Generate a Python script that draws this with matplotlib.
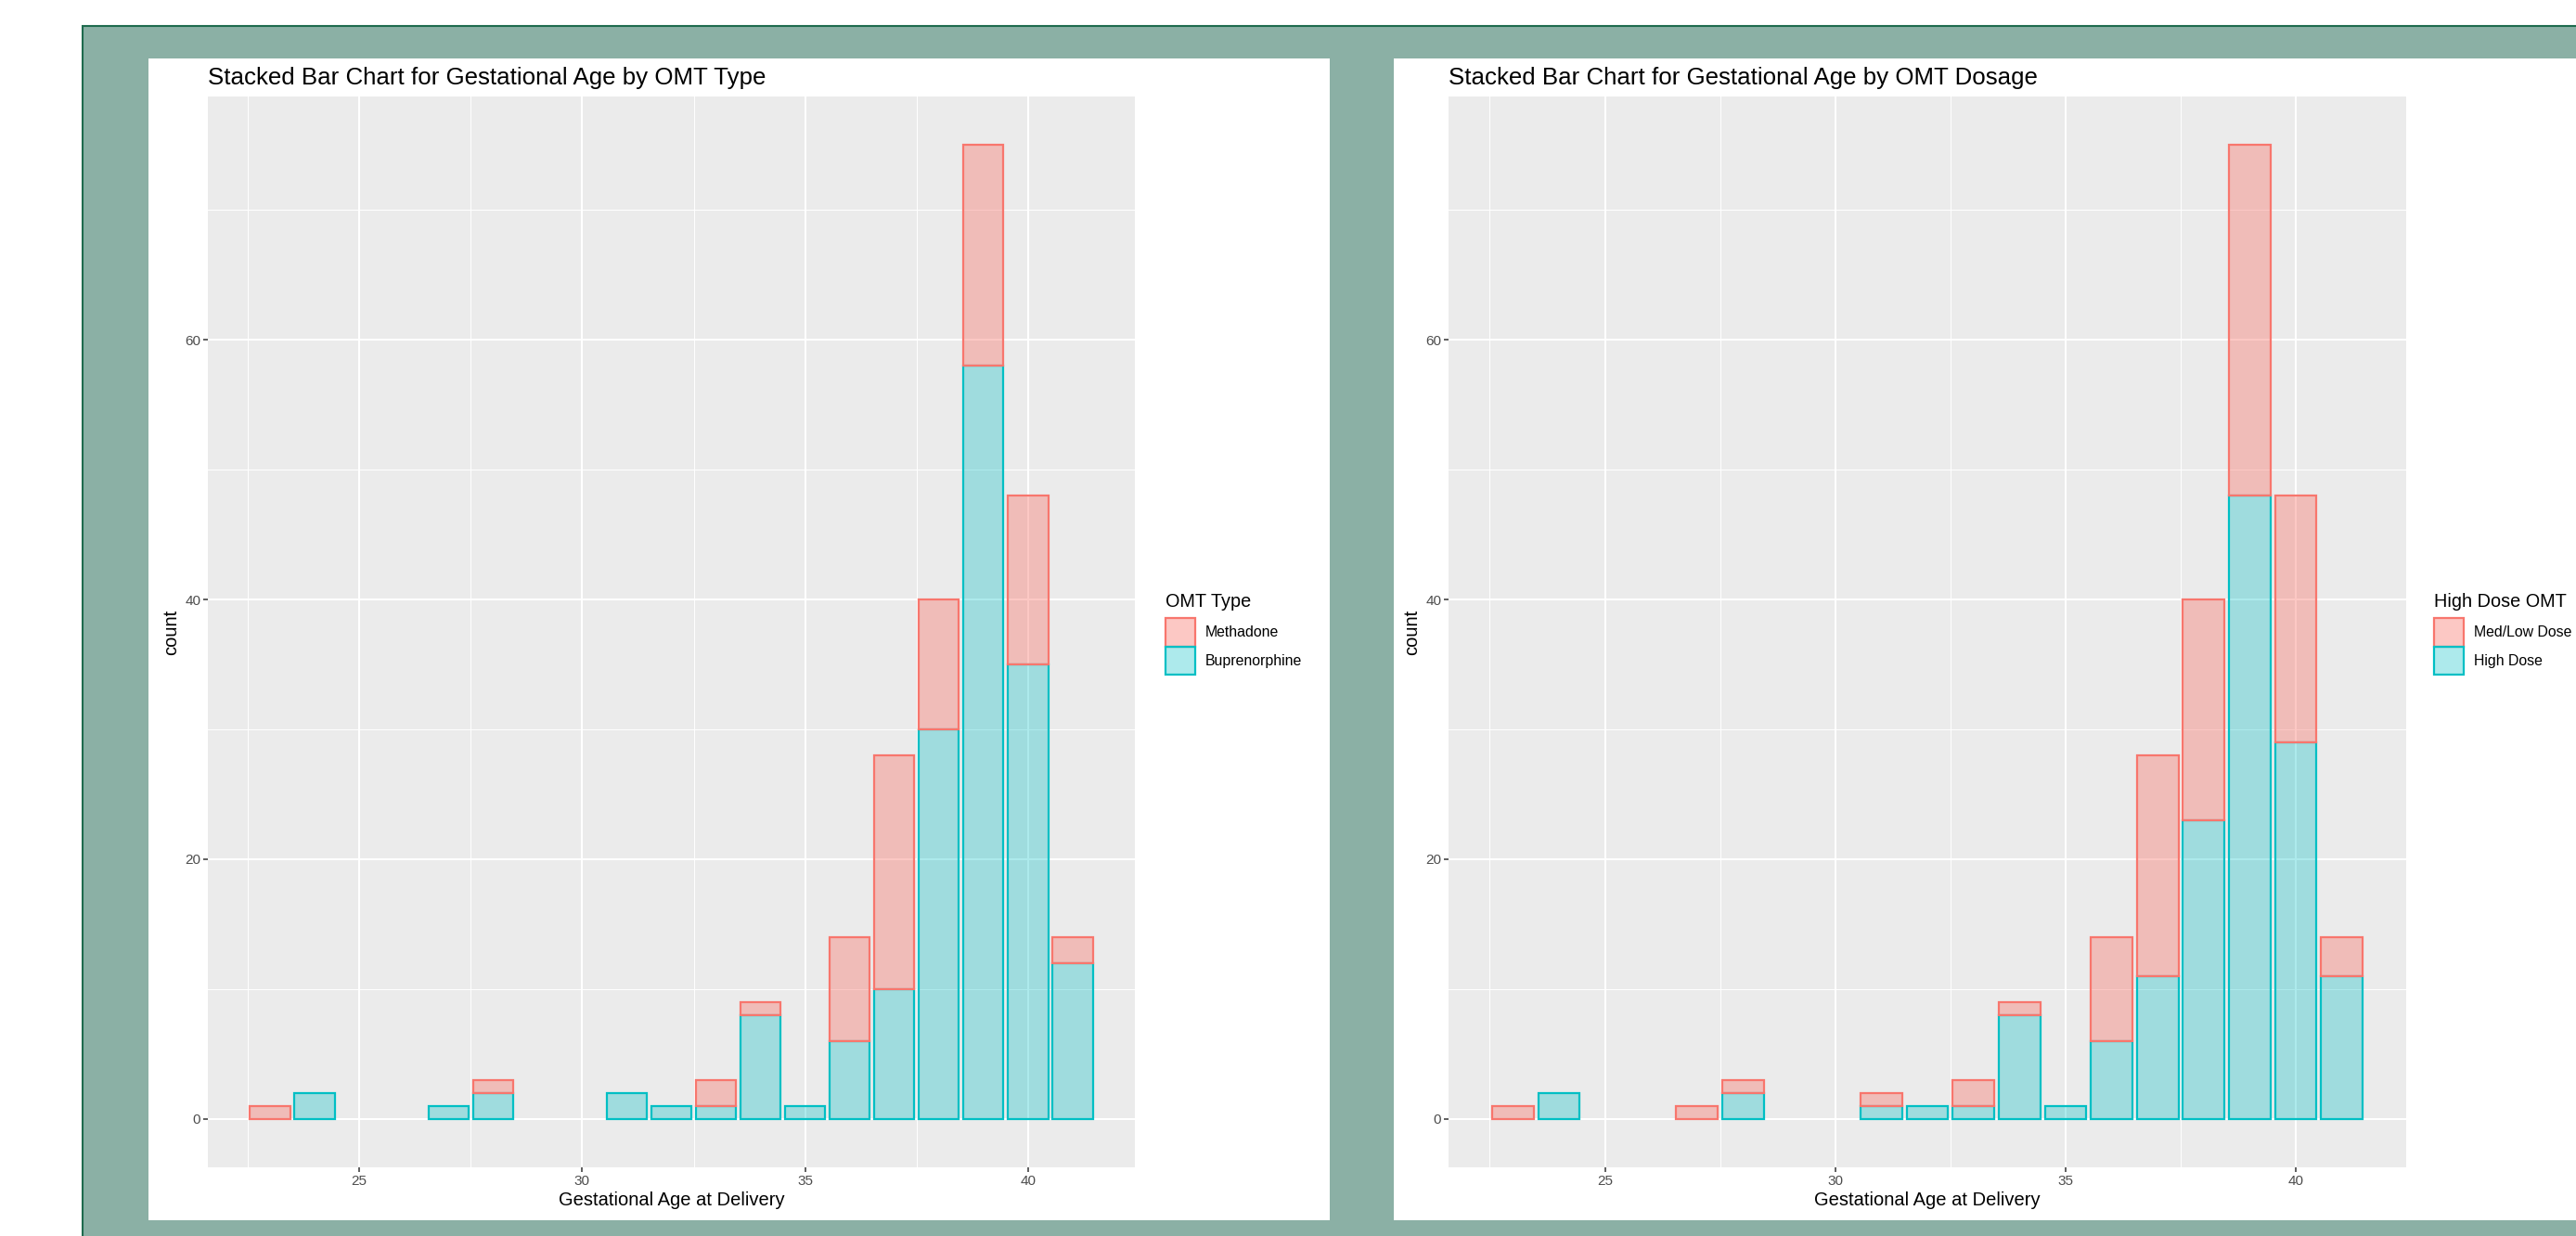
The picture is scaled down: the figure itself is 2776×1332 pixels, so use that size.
import matplotlib
matplotlib.use("Agg")
import matplotlib.pyplot as plt
import numpy as np
from matplotlib.patches import Patch, Rectangle
from matplotlib.ticker import MultipleLocator

plt.rcParams["font.family"] = ["Liberation Sans", "DejaVu Sans"]

# Gestational age (weeks) and counts per group.
GEST_AGE = [23, 24, 27, 28, 31, 32, 33, 34, 35, 36, 37, 38, 39, 40, 41]
BUPRENORPHINE = [0, 2, 1, 2, 2, 1, 1, 8, 1, 6, 10, 30, 58, 35, 12]
METHADONE = [1, 0, 0, 1, 0, 0, 2, 1, 0, 8, 18, 10, 17, 13, 2]
HIGH_DOSE = [0, 2, 0, 2, 1, 1, 1, 8, 1, 6, 11, 23, 48, 29, 11]
MED_LOW_DOSE = [1, 0, 1, 1, 1, 0, 2, 1, 0, 8, 17, 17, 27, 19, 3]

W, H = 2776, 1332
RED = "#F8766D"
TEAL = "#00BFC4"
RED_FILL = (248 / 255, 118 / 255, 109 / 255, 0.4)
TEAL_FILL = (0, 191 / 255, 196 / 255, 0.32)


def px_box(x0, y0, x1, y1):
    """Pixel box (top-left origin) -> figure fraction [l, b, w, h]."""
    return [x0 / W, 1 - y1 / H, (x1 - x0) / W, (y1 - y0) / H]


def add_rect(fig, x0, y0, x1, y1, **kw):
    l, b, w, h = px_box(x0, y0, x1, y1)
    fig.patches.append(Rectangle((l, b), w, h, transform=fig.transFigure,
                                 zorder=-10, **kw))


def stacked(ax, bottom_vals, top_vals):
    x = np.array(GEST_AGE)
    lo = np.array(bottom_vals)
    hi = np.array(top_vals)
    m = lo > 0
    ax.bar(x[m], lo[m], width=0.9, bottom=0, facecolor=TEAL_FILL,
           edgecolor=TEAL, linewidth=1.6, zorder=3)
    m = hi > 0
    ax.bar(x[m], hi[m], width=0.9, bottom=lo[m], facecolor=RED_FILL,
           edgecolor=RED, linewidth=1.6, zorder=3)


def style(ax, title):
    ax.set_facecolor("#EBEBEB")
    for s in ax.spines.values():
        s.set_visible(False)
    ax.set_xlim(21.605, 42.395)
    ax.set_ylim(-3.75, 78.75)
    ax.xaxis.set_major_locator(MultipleLocator(5))
    ax.xaxis.set_minor_locator(MultipleLocator(2.5))
    ax.yaxis.set_major_locator(MultipleLocator(20))
    ax.yaxis.set_minor_locator(MultipleLocator(10))
    ax.grid(which="major", color="white", linewidth=1.5)
    ax.grid(which="minor", color="white", linewidth=0.7)
    ax.set_axisbelow(True)
    ax.tick_params(which="major", length=3.5, width=1.1, color="#333333",
                   labelsize=11, labelcolor="#4D4D4D", pad=2)
    ax.tick_params(which="minor", length=0)
    ax.set_title(title, loc="left", fontsize=18.6, pad=9)
    ax.set_xlabel("Gestational Age at Delivery", fontsize=14.5, labelpad=3)
    ax.set_ylabel("count", fontsize=14.5, labelpad=4)


def legend(fig, x, title, labels):
    # title as its own text so the gap to the keys can match ggplot
    fig.text(x / W, 1 - 648 / H, title, fontsize=14.3, va="center", ha="left")
    handles = [
        Patch(facecolor=RED_FILL, edgecolor=RED, linewidth=1.6, label=labels[0]),
        Patch(facecolor=TEAL_FILL, edgecolor=TEAL, linewidth=1.6, label=labels[1]),
    ]
    fig.legend(handles=handles, loc="upper left",
               bbox_to_anchor=(x / W, 1 - 666 / H), frameon=False, fontsize=11.4,
               handlelength=2.0, handleheight=2.6,
               labelspacing=0.0, handletextpad=0.72, borderpad=0,
               borderaxespad=0)


fig = plt.figure(figsize=(W / 100, H / 100), dpi=100)
fig.patch.set_facecolor("white")

# green frame behind the two panels
add_rect(fig, 89, 28, W + 20, H + 20, facecolor="#8BB0A5",
         edgecolor="#1F6B4E", linewidth=1.5)
add_rect(fig, 160, 63, 1433, 1315, facecolor="white", edgecolor="none")
add_rect(fig, 1502, 63, W + 20, 1315, facecolor="white", edgecolor="none")

ax1 = fig.add_axes(px_box(224, 104, 1223, 1258))
stacked(ax1, BUPRENORPHINE, METHADONE)
style(ax1, "Stacked Bar Chart for Gestational Age by OMT Type")
legend(fig, 1256, "OMT Type", ["Methadone", "Buprenorphine"])

ax2 = fig.add_axes(px_box(1561, 104, 2593, 1258))
stacked(ax2, HIGH_DOSE, MED_LOW_DOSE)
style(ax2, "Stacked Bar Chart for Gestational Age by OMT Dosage")
legend(fig, 2623, "High Dose OMT", ["Med/Low Dose", "High Dose"])

fig.savefig("out.png", dpi=100)
